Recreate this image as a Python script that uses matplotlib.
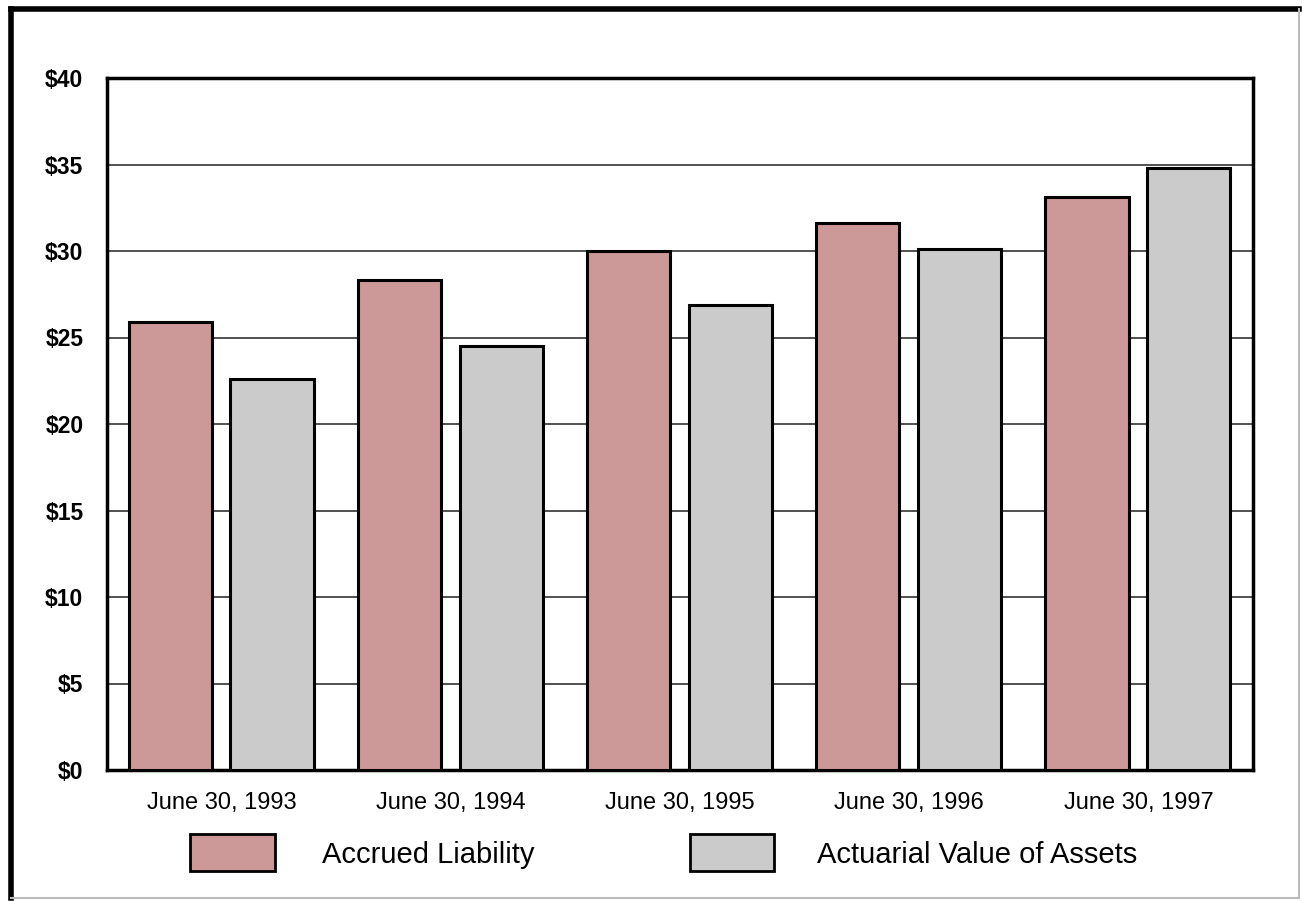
import numpy as np
import matplotlib.pyplot as plt
from matplotlib.lines import Line2D
from matplotlib.patches import Rectangle

dates = ['June 30, 1993', 'June 30, 1994', 'June 30, 1995', 'June 30, 1996', 'June 30, 1997']
accrued = [25.9, 28.3, 30.0, 31.6, 33.1]
assets = [22.6, 24.5, 26.9, 30.1, 34.8]
yticks = [0, 5, 10, 15, 20, 25, 30, 35, 40]
ytick_labels = ['$0', '$5', '$10', '$15', '$20', '$25', '$30', '$35', '$40']

pink = '#cc9898'
gray = '#cbcbcb'

plt.rcParams['font.family'] = ['Liberation Sans', 'DejaVu Sans']

fig = plt.figure(figsize=(13.02, 9.01), dpi=100)
W, H = 1302, 901
ax = fig.add_axes([107 / W, 1 - 770 / H, (1253 - 107) / W, (770 - 78) / H])

x = np.arange(len(dates))
ax.bar(x - 0.224, accrued, width=0.363, color=pink, edgecolor='black', linewidth=2.2, zorder=3)
ax.bar(x + 0.22, assets, width=0.363, color=gray, edgecolor='black', linewidth=2.2, zorder=3)

ax.set_xlim(-0.5, 4.5)
ax.set_ylim(0, 40)
ax.set_yticks(yticks)
ax.set_yticklabels(ytick_labels, fontsize=16.5, fontweight='bold')
ax.set_xticks(x)
ax.set_xticklabels(dates, fontsize=17, fontweight='medium')
ax.tick_params(axis='y', length=0, pad=17)
ax.tick_params(axis='x', length=0, pad=16)
ax.yaxis.grid(True, color='#333333', linewidth=1.2, zorder=0)
ax.set_axisbelow(True)
for s in ax.spines.values():
    s.set_linewidth(2.5)
    s.set_color('black')

# legend drawn as patches in figure pixels
fig.add_artist(Rectangle((190 / W, 1 - 871 / H), 85 / W, 37 / H, transform=fig.transFigure,
                         facecolor=pink, edgecolor='black', linewidth=2))
fig.text(322 / W, 1 - 855 / H, 'Accrued Liability', fontsize=21, va='center')
fig.add_artist(Rectangle((690 / W, 1 - 871 / H), 84 / W, 37 / H, transform=fig.transFigure,
                         facecolor=gray, edgecolor='black', linewidth=2))
fig.text(817 / W, 1 - 855 / H, 'Actuarial Value of Assets', fontsize=21, va='center')

# outer frame
fig.add_artist(Line2D([11 / W, 11 / W], [1 - 898 / H, 1 - 9 / H], transform=fig.transFigure, color='black', linewidth=4))
fig.add_artist(Line2D([11 / W, 1299 / W], [1 - 9 / H, 1 - 9 / H], transform=fig.transFigure, color='black', linewidth=4))
fig.add_artist(Line2D([1299 / W, 1299 / W], [1 - 898 / H, 1 - 9 / H], transform=fig.transFigure, color='#bbbbbb', linewidth=1.5))
fig.add_artist(Line2D([11 / W, 1299 / W], [1 - 898 / H, 1 - 898 / H], transform=fig.transFigure, color='#bbbbbb', linewidth=1.5))

fig.savefig('out.png', dpi=100)
